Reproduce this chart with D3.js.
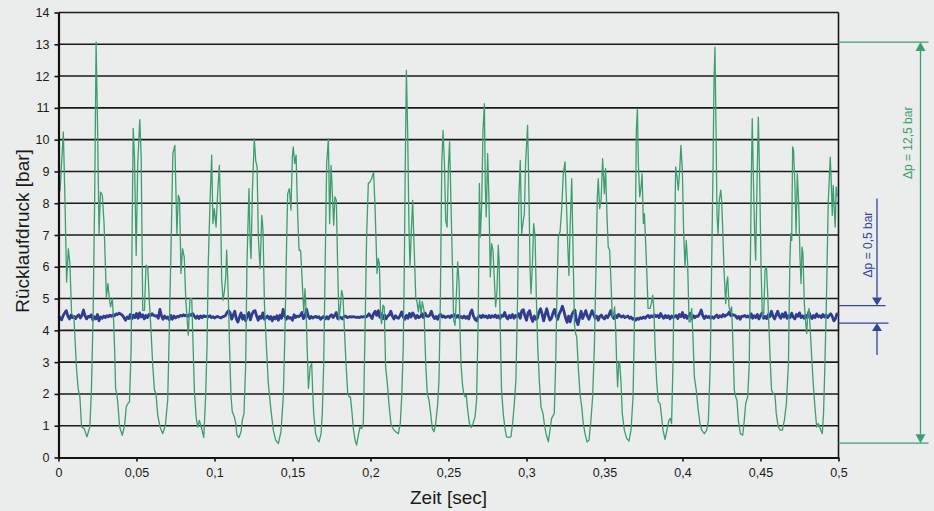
<!DOCTYPE html>
<html>
<head>
<meta charset="utf-8">
<script src="https://cdn.jsdelivr.net/npm/d3@7"></script>
<style>
      body { margin: 0; background: #ebedec; }
      svg { display: block; font-family: "Liberation Sans", Arial, sans-serif; }
</style>
</head>
<body>
<svg id="drawing_region"></svg>
<script>
// Pressure readings (time in sec, pressure in bar)
const xTicks = [0, 0.05, 0.1, 0.15, 0.2, 0.25, 0.3, 0.35, 0.4, 0.45, 0.5];
const yTicks = [0, 1, 2, 3, 4, 5, 6, 7, 8, 9, 10, 11, 12, 13, 14];

const greenSeries = [
      [0,8.30],[0.0010,8.41],[0.0031,10.24],[0.0041,8.20],[0.0052,5.52],[0.0063,6.57],[0.0073,6.10],[0.0084,4.53],[0.0099,4.42],[0.0116,2.75],
      [0.0126,2.17],[0.0137,1.91],[0.0148,0.96],[0.0165,0.91],[0.0182,0.65],[0.0201,0.96],[0.0211,2.12],[0.0222,4.53],[0.0232,8.20],[0.0241,13.07],
      [0.0249,10.82],[0.0260,7.04],[0.0269,8.35],[0.0281,8.25],[0.0292,7.36],[0.0307,5.05],[0.0317,5.47],[0.0326,5.00],[0.0334,4.74],[0.0345,5.00],
      [0.0353,4.32],[0.0360,3.38],[0.0366,2.17],[0.0375,1.96],[0.0381,1.65],[0.0392,0.96],[0.0409,0.70],[0.0424,1.02],[0.0434,1.59],[0.0445,1.70],
      [0.0455,1.75],[0.0466,3.48],[0.0472,7.15],[0.0479,10.35],[0.0487,9.45],[0.0498,6.36],[0.0508,9.25],[0.0521,10.63],[0.0530,9.45],[0.0540,4.63],
      [0.0551,4.63],[0.0561,6.05],[0.0572,6.00],[0.0583,4.84],[0.0593,4.00],[0.0604,2.90],[0.0615,2.12],[0.0625,2.01],[0.0636,1.33],[0.0651,0.96],
      [0.0668,0.75],[0.0685,1.02],[0.0700,1.80],[0.0710,4.00],[0.0721,6.52],[0.0733,9.56],[0.0746,9.82],[0.0759,7.04],[0.0768,8.25],[0.0776,8.14],
      [0.0785,5.79],[0.0795,6.57],[0.0806,6.31],[0.0816,4.95],[0.0832,3.85],[0.0843,5.00],[0.0854,5.00],[0.0860,4.00],[0.0871,2.12],[0.0882,1.28],
      [0.0892,0.96],[0.0903,1.17],[0.0918,0.91],[0.0931,0.63],[0.0943,1.91],[0.0952,3.48],[0.0960,6.10],[0.0971,7.99],[0.0982,9.51],[0.0990,7.36],
      [0.0999,7.83],[0.1010,7.25],[0.1020,8.30],[0.1031,9.19],[0.1040,7.57],[0.1046,5.58],[0.1055,4.95],[0.1063,5.21],[0.1072,5.68],[0.1078,6.52],
      [0.1088,5.16],[0.1097,3.38],[0.1106,1.91],[0.1114,1.44],[0.1127,1.28],[0.1136,1.07],[0.1144,0.70],[0.1157,0.63],[0.1170,0.81],[0.1178,1.17],
      [0.1189,1.38],[0.1200,2.96],[0.1208,6.10],[0.1221,8.46],[0.1228,6.83],[0.1234,6.26],[0.1243,8.41],[0.1255,10.03],[0.1264,9.35],[0.1273,9.14],
      [0.1281,6.94],[0.1292,5.94],[0.1303,7.62],[0.1311,7.15],[0.1320,4.84],[0.1334,3.38],[0.1345,2.33],[0.1362,1.49],[0.1377,0.86],[0.1392,0.55],
      [0.1409,0.44],[0.1426,0.81],[0.1441,1.91],[0.1452,4.00],[0.1463,6.94],[0.1469,8.30],[0.1480,8.46],[0.1490,7.78],[0.1499,9.45],[0.1505,9.77],
      [0.1514,9.25],[0.1523,9.51],[0.1533,7.67],[0.1542,6.52],[0.1552,6.52],[0.1563,5.47],[0.1572,4.58],[0.1580,5.31],[0.1587,4.63],[0.1593,3.58],
      [0.1602,2.17],[0.1613,2.85],[0.1623,2.96],[0.1629,2.12],[0.1636,1.38],[0.1648,0.75],[0.1661,0.55],[0.1670,0.49],[0.1683,0.75],[0.1691,1.38],
      [0.1700,2.96],[0.1708,5.58],[0.1719,9.25],[0.1730,10.03],[0.1738,7.36],[0.1747,9.19],[0.1753,8.62],[0.1764,7.31],[0.1772,8.20],[0.1781,8.09],
      [0.1790,5.89],[0.1798,4.32],[0.1807,4.74],[0.1815,5.26],[0.1824,5.05],[0.1832,4.11],[0.1843,2.96],[0.1854,2.01],[0.1863,1.91],[0.1871,1.91],
      [0.1880,1.49],[0.1890,0.91],[0.1901,0.55],[0.1911,0.39],[0.1922,0.70],[0.1933,0.96],[0.1943,0.91],[0.1954,1.07],[0.1965,4.00],[0.1975,6.94],
      [0.1986,8.62],[0.1997,8.67],[0.2007,8.77],[0.2020,8.98],[0.2029,7.88],[0.2035,6.94],[0.2042,5.79],[0.2050,6.26],[0.2057,6.10],[0.2065,4.42],
      [0.2071,4.21],[0.2080,4.79],[0.2088,4.74],[0.2097,2.85],[0.2108,2.33],[0.2118,1.70],[0.2131,1.07],[0.2144,0.91],[0.2161,0.81],[0.2179,0.75],
      [0.2191,1.07],[0.2200,1.91],[0.2210,3.48],[0.2217,6.10],[0.2223,9.25],[0.2230,12.18],[0.2238,10.29],[0.2247,7.15],[0.2253,6.00],[0.2262,7.15],
      [0.2270,8.09],[0.2279,6.73],[0.2290,5.05],[0.2298,4.90],[0.2307,4.58],[0.2315,4.95],[0.2324,4.53],[0.2332,4.90],[0.2343,4.63],[0.2354,2.96],
      [0.2364,2.01],[0.2375,1.80],[0.2386,1.38],[0.2396,0.91],[0.2407,0.81],[0.2418,1.07],[0.2431,1.70],[0.2439,2.43],[0.2448,5.05],[0.2457,9.25],
      [0.2465,10.29],[0.2474,9.25],[0.2482,7.46],[0.2491,7.25],[0.2500,9.25],[0.2507,9.93],[0.2516,7.99],[0.2525,6.10],[0.2533,4.32],[0.2542,4.16],
      [0.2550,5.05],[0.2559,6.15],[0.2568,5.47],[0.2574,4.00],[0.2580,2.96],[0.2589,2.33],[0.2597,2.01],[0.2606,1.91],[0.2614,1.96],[0.2623,1.49],
      [0.2634,1.07],[0.2644,0.94],[0.2657,1.07],[0.2670,1.28],[0.2680,1.80],[0.2691,4.53],[0.2698,8.62],[0.2704,6.94],[0.2713,7.99],[0.2721,10.29],
      [0.2730,11.13],[0.2736,8.51],[0.2742,7.57],[0.2751,9.56],[0.2759,8.20],[0.2768,5.68],[0.2776,6.73],[0.2785,6.52],[0.2794,5.58],[0.2802,4.74],
      [0.2811,5.26],[0.2819,6.68],[0.2825,6.10],[0.2832,4.00],[0.2840,2.12],[0.2851,1.38],[0.2862,0.91],[0.2872,0.65],[0.2883,0.63],[0.2900,0.65],
      [0.2911,1.07],[0.2922,1.70],[0.2932,2.43],[0.2943,5.05],[0.2951,8.20],[0.2960,9.35],[0.2969,7.04],[0.2977,7.36],[0.2986,7.67],[0.2994,9.25],
      [0.3007,10.45],[0.3016,8.20],[0.3023,5.89],[0.3029,5.16],[0.3038,6.10],[0.3046,7.36],[0.3055,6.94],[0.3063,5.05],[0.3072,3.48],[0.3083,2.33],
      [0.3093,1.59],[0.3106,1.38],[0.3114,1.07],[0.3125,0.75],[0.3140,0.49],[0.3153,0.96],[0.3161,1.23],[0.3178,1.38],[0.3187,2.96],[0.3195,5.05],
      [0.3204,6.94],[0.3215,7.10],[0.3225,7.78],[0.3236,8.93],[0.3247,9.30],[0.3255,8.20],[0.3264,6.73],[0.3272,5.73],[0.3279,7.15],[0.3290,8.77],
      [0.3298,6.62],[0.3307,4.21],[0.3315,3.90],[0.3322,3.79],[0.3332,2.85],[0.3343,2.01],[0.3354,1.59],[0.3364,1.07],[0.3375,0.75],[0.3388,0.49],
      [0.3401,0.55],[0.3413,1.17],[0.3424,1.91],[0.3435,3.48],[0.3446,6.10],[0.3454,8.20],[0.3460,8.77],[0.3469,7.83],[0.3478,8.09],[0.3488,9.40],
      [0.3499,8.30],[0.3507,9.09],[0.3516,7.57],[0.3524,6.62],[0.3533,6.52],[0.3542,5.47],[0.3550,4.42],[0.3559,4.53],[0.3565,4.74],[0.3572,4.00],
      [0.3578,2.96],[0.3584,2.22],[0.3591,2.96],[0.3597,3.01],[0.3606,2.33],[0.3614,1.38],[0.3627,0.86],[0.3642,0.60],[0.3657,0.52],[0.3670,0.86],
      [0.3683,1.91],[0.3691,4.00],[0.3698,7.15],[0.3704,10.29],[0.3711,10.97],[0.3717,9.25],[0.3726,8.20],[0.3734,8.51],[0.3741,8.93],[0.3749,7.36],
      [0.3756,7.67],[0.3764,6.73],[0.3773,5.58],[0.3779,4.69],[0.3792,4.69],[0.3800,4.84],[0.3809,5.10],[0.3817,4.63],[0.3824,3.48],[0.3834,2.43],
      [0.3845,1.75],[0.3856,1.70],[0.3866,1.28],[0.3875,0.86],[0.3888,0.57],[0.3900,0.86],[0.3913,1.17],[0.3922,1.23],[0.3930,1.07],[0.3939,2.96],
      [0.3948,6.10],[0.3956,9.14],[0.3965,8.83],[0.3973,8.41],[0.3982,9.04],[0.3990,9.82],[0.3999,9.04],[0.4007,7.15],[0.4016,6.00],[0.4024,6.83],
      [0.4033,6.10],[0.4042,4.27],[0.4050,4.27],[0.4059,4.69],[0.4067,3.79],[0.4076,2.54],[0.4088,2.12],[0.4101,1.49],[0.4112,1.07],[0.4123,0.86],
      [0.4140,0.75],[0.4155,0.86],[0.4166,1.17],[0.4178,2.96],[0.4187,6.10],[0.4196,9.25],[0.4202,11.87],[0.4208,12.91],[0.4215,10.29],[0.4221,7.67],
      [0.4228,7.04],[0.4236,8.09],[0.4245,8.41],[0.4251,8.09],[0.4258,7.15],[0.4266,5.89],[0.4277,4.84],[0.4283,5.47],[0.4290,5.68],[0.4298,4.74],
      [0.4307,4.58],[0.4315,4.74],[0.4324,3.48],[0.4332,2.12],[0.4341,1.91],[0.4349,1.80],[0.4358,1.17],[0.4371,0.75],[0.4386,0.70],[0.4396,1.17],
      [0.4405,1.70],[0.4418,1.91],[0.4428,2.96],[0.4435,6.10],[0.4441,8.72],[0.4447,10.66],[0.4456,8.41],[0.4463,6.94],[0.4469,6.21],[0.4478,8.72],
      [0.4486,10.71],[0.4495,8.72],[0.4503,6.10],[0.4512,4.42],[0.4521,4.53],[0.4529,5.89],[0.4538,6.00],[0.4546,5.16],[0.4555,4.00],[0.4563,2.96],
      [0.4571,2.12],[0.4582,2.01],[0.4593,1.96],[0.4601,1.38],[0.4614,0.96],[0.4627,0.86],[0.4640,0.86],[0.4653,1.17],[0.4666,1.70],[0.4679,2.96],
      [0.4688,6.10],[0.4694,7.04],[0.4700,6.83],[0.4706,9.77],[0.4712,9.66],[0.4721,8.51],[0.4728,7.04],[0.4736,8.93],[0.4745,7.99],[0.4753,6.31],
      [0.4760,5.47],[0.4766,6.62],[0.4772,6.42],[0.4781,4.84],[0.4790,4.21],[0.4796,3.90],[0.4802,4.42],[0.4811,4.69],[0.4819,4.00],[0.4828,3.17],
      [0.4838,2.33],[0.4849,1.59],[0.4860,0.96],[0.4870,1.07],[0.4879,0.96],[0.4887,0.86],[0.4896,0.75],[0.4904,1.38],[0.4913,2.96],[0.4923,5.05],
      [0.4934,7.99],[0.4947,9.45],[0.4953,8.72],[0.4960,7.62],[0.4966,8.56],[0.4972,7.88],[0.4979,7.25],[0.4985,8.51],[0.4994,8.20]
];

// damped line, sampled every millisecond
const blueStep = 0.001;
const blueSeries = [
      4.45,4.40,4.33,4.47,4.55,4.62,4.45,4.36,4.48,4.40, 4.44,4.37,4.45,4.49,4.39,4.47,4.64,4.46,4.36,4.44,
      4.42,4.49,4.33,4.43,4.36,4.50,4.30,4.42,4.38,4.45, 4.40,4.46,4.43,4.48,4.44,4.49,4.46,4.52,4.50,4.54,
      4.51,4.47,4.40,4.32,4.42,4.37,4.50,4.36,4.48,4.40, 4.53,4.38,4.55,4.42,4.49,4.36,4.47,4.40,4.50,4.46,
      4.52,4.47,4.45,4.46,4.38,4.66,4.46,4.35,4.45,4.38, 4.42,4.33,4.47,4.35,4.45,4.39,4.44,4.42,4.47,4.45,
      4.49,4.46,4.48,4.44,4.50,4.47,4.53,4.45,4.38,4.45, 4.37,4.45,4.40,4.46,4.43,4.45,4.42,4.46,4.40,4.43,
      4.39,4.42,4.44,4.41,4.39,4.42,4.44,4.46,4.56,4.62, 4.55,4.35,4.48,4.60,4.36,4.26,4.42,4.55,4.35,4.47,
      4.30,4.45,4.56,4.33,4.50,4.60,4.62,4.45,4.32,4.44, 4.38,4.55,4.35,4.40,4.45,4.36,4.44,4.30,4.42,4.36,
      4.46,4.32,4.48,4.38,4.66,4.45,4.35,4.44,4.38,4.40, 4.32,4.49,4.40,4.45,4.43,4.47,4.56,4.37,4.43,4.66,
      4.46,4.37,4.44,4.39,4.42,4.44,4.40,4.43,4.35,4.40, 4.44,4.36,4.43,4.36,4.45,4.49,4.40,4.47,4.56,4.37,
      4.42,4.40,4.36,4.44,4.45,4.40,4.42,4.43,4.42,4.43, 4.42,4.41,4.42,4.40,4.43,4.42,4.43,4.42,4.45,4.52,
      4.45,4.37,4.53,4.60,4.47,4.62,4.41,4.52,4.37,4.48, 4.36,4.45,4.48,4.60,4.45,4.36,4.46,4.40,4.38,4.47,
      4.58,4.42,4.35,4.47,4.38,4.53,4.42,4.55,4.48,4.38, 4.47,4.40,4.43,4.52,4.40,4.54,4.45,4.44,4.48,4.60,
      4.45,4.37,4.44,4.35,4.47,4.50,4.42,4.45,4.40,4.43, 4.45,4.40,4.47,4.43,4.49,4.41,4.47,4.40,4.44,4.39,
      4.45,4.38,4.44,4.36,4.55,4.64,4.45,4.35,4.30,4.42, 4.46,4.40,4.48,4.42,4.45,4.39,4.47,4.40,4.46,4.42,
      4.48,4.40,4.46,4.37,4.47,4.44,4.56,4.42,4.36,4.47, 4.40,4.50,4.38,4.47,4.43,4.52,4.38,4.62,4.65,4.45,
      4.32,4.55,4.62,4.40,4.28,4.45,4.35,4.38,4.58,4.68, 4.52,4.30,4.50,4.68,4.47,4.32,4.38,4.55,4.66,4.45,
      4.35,4.52,4.62,4.76,4.60,4.40,4.25,4.45,4.27,4.48, 4.58,4.64,4.30,4.18,4.40,4.60,4.37,4.50,4.62,4.45,
      4.35,4.48,4.62,4.50,4.38,4.45,4.32,4.44,4.48,4.40, 4.36,4.46,4.40,4.50,4.62,4.45,4.37,4.47,4.40,4.50,
      4.45,4.42,4.46,4.40,4.43,4.45,4.38,4.42,4.35,4.38, 4.32,4.38,4.35,4.40,4.37,4.42,4.38,4.44,4.47,4.40,
      4.46,4.42,4.49,4.43,4.47,4.40,4.53,4.44,4.38,4.47, 4.40,4.46,4.36,4.45,4.40,4.43,4.47,4.37,4.50,4.43,
      4.56,4.40,4.48,4.38,4.45,4.54,4.36,4.46,4.40,4.45, 4.44,4.52,4.64,4.46,4.37,4.45,4.40,4.44,4.38,4.43,
      4.38,4.44,4.48,4.40,4.46,4.42,4.50,4.44,4.48,4.50, 4.58,4.46,4.50,4.48,4.46,4.38,4.44,4.35,4.45,4.44,
      4.47,4.42,4.45,4.40,4.52,4.38,4.46,4.40,4.50,4.36, 4.47,4.55,4.38,4.44,4.37,4.50,4.43,4.60,4.45,4.36,
      4.48,4.60,4.45,4.38,4.52,4.42,4.56,4.38,4.46,4.40, 4.54,4.42,4.36,4.50,4.44,4.55,4.40,4.46,4.38,4.47,
      4.40,4.58,4.45,4.37,4.47,4.40,4.52,4.43,4.46,4.40, 4.50,4.42,4.48,4.40,4.46,4.52,4.44,4.30,4.36,4.52,
      4.47
];

// dimension marks on the right side
const greenRange = [13.07, 0.45];
const blueRange = [4.78, 4.23];
const greenLabel = 'Δp = 12,5 bar';
const blueLabel = 'Δp = 0,5 bar';

class PressureChart{

      constructor(config, data){
            this.config = {
                  parent: config.parent,
                  width: config.width || 934,
                  height: config.height || 511,
                  margin: config.margin || {top:12.5, right:95.5, bottom:53.5, left:58.5},
                  xlabel: config.xlabel || '',
                  ylabel: config.ylabel || ''
            }
            this.data = data;
            this.init();
      }

      init(){
            let self = this;

            self.svg = d3.select( self.config.parent )
                  .attr('width', self.config.width)
                  .attr('height', self.config.height);

            self.svg.append('rect')
                  .attr('width', self.config.width)
                  .attr('height', self.config.height)
                  .attr('fill', '#ebedec');

            self.chart = self.svg.append('g')
                  .attr('transform', `translate(${self.config.margin.left}, ${self.config.margin.top})`);

            self.inner_width = self.config.width - self.config.margin.left - self.config.margin.right;
            self.inner_height = self.config.height - self.config.margin.top - self.config.margin.bottom;

            self.xscale = d3.scaleLinear()
                  .domain( [0, 0.5] )
                  .range( [0, self.inner_width] );

            self.yscale = d3.scaleLinear()
                  .domain( [0, 14] )
                  .range( [self.inner_height, 0] );

            const fmt = d => String(d).replace('.', ',');

            self.xaxis = d3.axisBottom( self.xscale )
                  .tickValues( xTicks )
                  .tickFormat( fmt )
                  .tickSize(4)
                  .tickPadding(7)
                  .tickSizeOuter(0);

            self.yaxis = d3.axisLeft( self.yscale )
                  .tickValues( yTicks )
                  .tickSize(4)
                  .tickPadding(5)
                  .tickSizeOuter(0);

            self.grid_group = self.chart.append('g');
            self.line_group = self.chart.append('g');

            self.xaxis_group = self.chart.append('g')
                  .attr('transform', `translate(0, ${self.inner_height})`);

            self.yaxis_group = self.chart.append('g');

            self.note_group = self.chart.append('g');

            self.svg.append('text')
                  .style('font-size', '19px')
                  .attr('text-anchor', 'middle')
                  .attr('x', self.config.margin.left + self.inner_width / 2)
                  .attr('y', self.config.height - 7)
                  .attr('fill', '#1a1a1a')
                  .text( self.config.xlabel );

            self.svg.append('text')
                  .style('font-size', '19px')
                  .attr('text-anchor', 'middle')
                  .attr('transform', `translate(29, ${self.config.margin.top + self.inner_height / 2 - 4}) rotate(-90)`)
                  .attr('fill', '#1a1a1a')
                  .text( self.config.ylabel );
      }

      update(){
            let self = this;
            self.green_line = d3.line()
                  .x( d => self.xscale( d[0] ) )
                  .y( d => self.yscale( d[1] ) );
            self.blue_line = d3.line()
                  .x( (d, i) => self.xscale( i * blueStep ) )
                  .y( d => self.yscale( d ) );
            self.render();
      }

      render(){
            let self = this;

            self.grid_group.selectAll('line')
                  .data( yTicks.filter(d => d > 0) )
                  .join('line')
                  .attr('x1', 0)
                  .attr('x2', self.inner_width)
                  .attr('y1', d => self.yscale(d))
                  .attr('y2', d => self.yscale(d))
                  .attr('stroke', '#1a1a1a')
                  .attr('stroke-width', 1.6);

            self.grid_group.append('line')
                  .attr('x1', self.inner_width)
                  .attr('x2', self.inner_width)
                  .attr('y1', self.yscale(14))
                  .attr('y2', self.yscale(0))
                  .attr('stroke', '#1a1a1a')
                  .attr('stroke-width', 1.6);

            self.line_group.append('path')
                  .datum( self.data.blue )
                  .attr('d', self.blue_line)
                  .attr('fill', 'none')
                  .attr('stroke', '#2e3d92')
                  .attr('stroke-width', 2.8)
                  .attr('stroke-linejoin', 'round');

            self.line_group.append('path')
                  .datum( self.data.green )
                  .attr('d', self.green_line)
                  .attr('fill', 'none')
                  .attr('stroke', '#3c9e6e')
                  .attr('stroke-width', 1.3)
                  .attr('stroke-linejoin', 'round');

            self.xaxis_group.call( self.xaxis );
            self.yaxis_group.call( self.yaxis );

            [self.xaxis_group, self.yaxis_group].forEach(g => {
                  g.select('.domain').attr('stroke', '#111').attr('stroke-width', 2.2);
                  g.selectAll('.tick line').attr('stroke', '#111').attr('stroke-width', 1.6);
                  g.selectAll('.tick text')
                        .style('font-size', '12.5px')
                        .style('font-family', '"Liberation Sans", Arial, sans-serif')
                        .attr('fill', '#1a1a1a');
            });

            self.drawDimension( greenRange, self.inner_width + 82, self.inner_width + 90, '#3c9e6e', greenLabel, 'outer' );
            self.drawDimension( blueRange, self.inner_width + 38.5, self.inner_width + 50, '#34449a', blueLabel, 'inner' );
      }

      drawDimension(range, xv, xend, color, label, style){
            let self = this;
            const g = self.note_group.append('g');
            const ya = self.yscale( range[0] );
            const yb = self.yscale( range[1] );

            g.selectAll('line.ext')
                  .data( [ya, yb] )
                  .join('line')
                  .attr('class', 'ext')
                  .attr('x1', self.inner_width)
                  .attr('x2', (d, i) => style == 'inner' && i == 0 ? xend - 3 : xend)
                  .attr('y1', d => d)
                  .attr('y2', d => d)
                  .attr('stroke', color)
                  .attr('stroke-width', 1.3);

            const aw = 5, ah = 9;
            if (style == 'outer'){
                  g.append('line')
                        .attr('x1', xv).attr('x2', xv)
                        .attr('y1', ya + ah).attr('y2', yb - ah)
                        .attr('stroke', color).attr('stroke-width', 1.3);
                  g.append('path')
                        .attr('d', `M${xv},${ya} L${xv - aw},${ya + ah} L${xv + aw},${ya + ah} Z`)
                        .attr('fill', color);
                  g.append('path')
                        .attr('d', `M${xv},${yb} L${xv - aw},${yb - ah} L${xv + aw},${yb - ah} Z`)
                        .attr('fill', color);
                  g.append('text')
                        .attr('transform', `translate(${xv - 9}, ${self.yscale(9.9)}) rotate(-90)`)
                        .attr('text-anchor', 'middle')
                        .style('font-size', '12px')
                        .attr('fill', color)
                        .text( label );
            }else{
                  const ah2 = 8;
                  g.append('line')
                        .attr('x1', xv).attr('x2', xv)
                        .attr('y1', ya - 107).attr('y2', ya - ah2)
                        .attr('stroke', color).attr('stroke-width', 1.3);
                  g.append('line')
                        .attr('x1', xv).attr('x2', xv)
                        .attr('y1', yb + ah2).attr('y2', yb + 32)
                        .attr('stroke', color).attr('stroke-width', 1.3);
                  g.append('path')
                        .attr('d', `M${xv},${ya} L${xv - aw},${ya - ah2} L${xv + aw},${ya - ah2} Z`)
                        .attr('fill', color);
                  g.append('path')
                        .attr('d', `M${xv},${yb} L${xv - aw},${yb + ah2} L${xv + aw},${yb + ah2} Z`)
                        .attr('fill', color);
                  g.append('text')
                        .attr('transform', `translate(${xv - 5}, ${self.yscale(6.7)}) rotate(-90)`)
                        .attr('text-anchor', 'middle')
                        .style('font-size', '12px')
                        .attr('fill', color)
                        .text( label );
            }
      }
}

let chart = new PressureChart({
      parent: '#drawing_region',
      width: 934,
      height: 511,
      margin: {top:12.5, right:95.5, bottom:53.5, left:58.5},
      xlabel: 'Zeit [sec]',
      ylabel: 'Rücklaufdruck [bar]'
}, { green: greenSeries, blue: blueSeries });
chart.update();
</script>
</body>
</html>
